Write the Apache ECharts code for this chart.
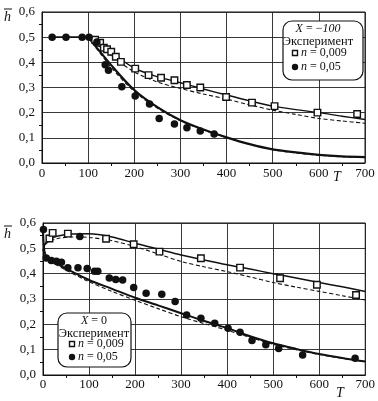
<!DOCTYPE html>
<html><head><meta charset="utf-8">
<script src="https://cdn.jsdelivr.net/npm/echarts@6/dist/echarts.min.js"></script>
<style>html,body{margin:0;padding:0;background:#fff}#c{width:378px;height:401px}</style>
</head><body><div id="c"></div>
<script>
// ---------- data: top panel (X = -100) ----------
const xTicks = [0,100,200,300,400,500,600,700];
const yTicks = [0,0.1,0.2,0.3,0.4,0.5,0.6];
const topSqT = [115,126,134,141,150,160,171,202,231,258,287,314,343,399,455,504,597,683];
const topSqH = [0.49,0.478,0.458,0.452,0.442,0.422,0.402,0.375,0.349,0.339,0.329,0.31,0.30,0.262,0.24,0.226,0.20,0.195];
const topCirT = [22,52,87,102,119,137,144,173,202,233,254,287,314,343,373];
const topCirH = [0.5,0.5,0.5,0.5,0.481,0.39,0.369,0.303,0.266,0.234,0.177,0.155,0.14,0.127,0.115];
const topFlatT = [20,100];
const topFlatH = [0.5,0.5];
const topCurveT = [100,150,200,250,300,350,400,450,500,550,600,650,700];
const topSolid1 = [0.5,0.439,0.377,0.343,0.319,0.294,0.27,0.247,0.226,0.212,0.2,0.186,0.173];
const topDash1  = [0.5,0.426,0.362,0.322,0.296,0.274,0.254,0.231,0.21,0.193,0.177,0.167,0.158];
const topSolid2 = [0.5,0.389,0.29,0.222,0.17,0.133,0.102,0.075,0.054,0.042,0.032,0.026,0.023];
const topDash2  = [0.5,0.38,0.284,0.218,0.168,0.131,0.101,0.074,0.053,0.04,0.031,0.025,0.022];
// ---------- data: bottom panel (X = 0) ----------
const botSqT = [14,21,54,137,197,253,343,428,515,595,680];
const botSqH = [0.539,0.561,0.558,0.538,0.516,0.487,0.461,0.424,0.382,0.356,0.316];
const botCirT = [1,7,18,29,40,54,76,80,96,112,119,144,158,173,197,224,258,287,312,343,373,402,428,454,484,512,564,678];
const botCirH = [0.574,0.462,0.452,0.449,0.445,0.423,0.423,0.547,0.42,0.41,0.41,0.383,0.377,0.375,0.345,0.323,0.319,0.29,0.237,0.224,0.204,0.185,0.169,0.136,0.119,0.105,0.079,0.066];
const botUpT = [0,5,15,30,60,100,150,200,250,300,350,400,450,500,550,600,650,700];
const botSolid1 = [0.49,0.52,0.537,0.548,0.557,0.558,0.545,0.52,0.497,0.474,0.454,0.435,0.418,0.4,0.383,0.365,0.348,0.33];
const botDash1  = [0.49,0.514,0.528,0.538,0.545,0.543,0.53,0.507,0.478,0.448,0.427,0.408,0.387,0.365,0.347,0.33,0.313,0.296];
const botLowT = [0,3,10,25,50,100,150,200,250,300,350,400,450,500,550,600,650,700];
const botSolid2 = [0.58,0.49,0.458,0.444,0.42,0.375,0.34,0.305,0.275,0.244,0.213,0.185,0.153,0.125,0.103,0.083,0.067,0.053];
const botDash2  = [0.57,0.482,0.452,0.438,0.414,0.368,0.33,0.295,0.262,0.23,0.203,0.177,0.148,0.121,0.1,0.081,0.066,0.053];

const zip = (a,b) => a.map((v,i)=>[v,b[i]]);
const FONT = '"Liberation Serif","DejaVu Serif",serif';
const INK = '#111';

function xAxis(gi, margin){
  return {gridIndex:gi, type:'value', min:0, max:700, interval:100,
    axisLine:{onZero:false, lineStyle:{color:INK,width:1}},
    axisTick:{show:false},
    minorTick:{show:true, splitNumber:2, length:3, lineStyle:{color:INK}},
    axisLabel:{color:INK, fontFamily:FONT, fontSize:13, margin:margin, showMaxLabel:true},
    splitLine:{show:true, lineStyle:{color:'#222', width:0.9}}};
}
function yAxis(gi){
  return {gridIndex:gi, type:'value', min:0, max:0.6, interval:0.1,
    axisLine:{onZero:false, lineStyle:{color:INK,width:1}},
    axisTick:{show:false},
    minorTick:{show:true, splitNumber:2, length:3, lineStyle:{color:INK}},
    axisLabel:{color:INK, fontFamily:FONT, fontSize:13, margin:7,
      formatter:v=>v.toFixed(1).replace('.',',')},
    splitLine:{show:true, lineStyle:{color:'#222', width:0.9}}};
}
function line(gi, data, w, dashed){
  return {type:'line', xAxisIndex:gi, yAxisIndex:gi, data:data, symbol:'none',
    smooth:0.3, z:3,
    lineStyle:{color:INK, width:w, opacity:1, type: dashed ? [4,2.5] : 'solid'}};
}
function sq(gi, data){
  return {type:'scatter', xAxisIndex:gi, yAxisIndex:gi, data:data, symbol:'rect', symbolSize:6.5, z:5,
    itemStyle:{color:'#fff', borderColor:INK, borderWidth:1.4, opacity:1}};
}
function cir(gi, data){
  return {type:'scatter', xAxisIndex:gi, yAxisIndex:gi, data:data, symbol:'circle', symbolSize:7.5, z:5,
    itemStyle:{color:INK, opacity:1}};
}
const rich = {i:{fontStyle:'italic', fontFamily:FONT, fontSize:12, fill:INK}, r:{fontFamily:FONT, fontSize:12, fill:INK}};
function txt(x,y,t,opts){
  return {type:'text', x:x, y:y, z:10, style:Object.assign({text:t, font:'12px '+FONT, fill:INK, rich:rich, verticalAlign:'middle'}, opts||{})};
}
function legendBox(x,y,w,h,label,cx,lines){
  return [
    {type:'rect', z:8, shape:{x:x,y:y,width:w,height:h,r:9}, style:{fill:'#fff', stroke:INK, lineWidth:1.2}},
    txt(cx, lines[0], label, {align:'center'}),
    txt(cx, lines[1], 'Эксперимент', {align:'center', font:'12.5px '+FONT}),
    {type:'rect', z:10, shape:{x:lines[4]-2.5, y:lines[2]-2.5, width:5, height:5}, style:{fill:'#fff', stroke:INK, lineWidth:1.4}},
    txt(lines[4]+6, lines[2], '{i|n}{r| = 0,009}'),
    {type:'circle', z:10, shape:{cx:lines[4], cy:lines[3], r:3.2}, style:{fill:INK}},
    txt(lines[4]+6, lines[3], '{i|n}{r| = 0,05}')
  ];
}
function hbar(x,y){
  return [
    {type:'text', x:x, y:y, z:10, style:{text:'h', font:'italic 14px '+FONT, fill:INK}},
    {type:'line', z:10, shape:{x1:x, y1:y-1, x2:x+8, y2:y-1}, style:{stroke:INK, lineWidth:1}}
  ];
}

const chart = echarts.init(document.getElementById('c'));
chart.setOption({
  backgroundColor:'#fff',
  animation:false,
  grid:[
    {left:42, top:12, width:323, height:151, show:true, borderColor:INK, borderWidth:1},
    {left:43, top:223, width:324, height:152, show:true, borderColor:INK, borderWidth:1}
  ],
  xAxis:[xAxis(0,4), xAxis(1,3)],
  yAxis:[yAxis(0), yAxis(1)],
  series:[
    line(0, zip(topFlatT, topFlatH), 1.6, false),
    line(0, zip(topCurveT, topSolid1), 1.4, false),
    line(0, zip(topCurveT, topDash1), 1.1, true),
    line(0, zip(topCurveT, topSolid2), 2.2, false),
    line(0, zip(topCurveT, topDash2), 1.1, true),
    sq(0, zip(topSqT, topSqH)),
    cir(0, zip(topCirT, topCirH)),
    line(1, zip(botUpT, botSolid1), 1.5, false),
    line(1, zip(botUpT, botDash1), 1.1, true),
    line(1, zip(botLowT, botSolid2), 2.0, false),
    line(1, zip(botLowT, botDash2), 1.1, true),
    sq(1, zip(botSqT, botSqH)),
    cir(1, zip(botCirT, botCirH))
  ],
  graphic:[].concat(
    legendBox(283,21,80,59,'{i|X}{r| = −}{i|100}',318,[29,42,53,67,295]),
    legendBox(58,313,73,54,'{i|X}{r| = 0}',94,[321,334,344,357,72]),
    hbar(4,10), hbar(4,227),
    [ {type:'text', x:333, y:170, z:10, style:{text:'T', font:'italic 14px '+FONT, fill:INK}},
      {type:'text', x:336, y:386, z:10, style:{text:'T', font:'italic 14px '+FONT, fill:INK}} ]
  )
});
</script></body></html>
